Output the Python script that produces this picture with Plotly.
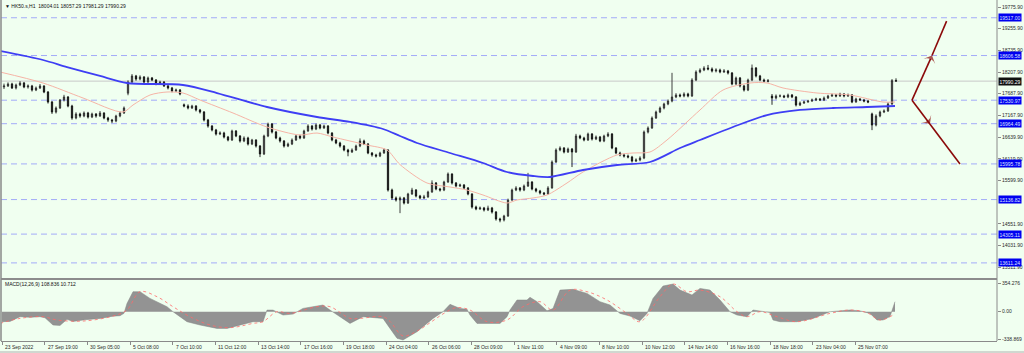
import plotly.graph_objects as go

# ---------------- data ----------------
header_text = "▼ HK50.s,H1  18004.01 18057.29 17981.29 17990.29"
macd_text = "MACD(12,26,9) 108.836 10.712"

opens = [17850, 17873, 17921, 17825, 17897, 17945, 17849, 17873, 17776, 17825,
         17873, 17728, 17487, 17246, 17343, 17535, 17608, 17391, 17102, 17198,
         17150, 17222, 17126, 17198, 17150, 17222, 17102, 17054, 17030, 17150,
         17222, 17700, 17969, 18114, 18041, 18090, 17969, 18066, 18017, 17921,
         17969, 17873, 17825, 17752, 17776, 17420, 17391, 17343, 17391, 17295,
         17246, 17054, 16909, 16813, 16716, 16740, 16644, 16572, 16789, 16668,
         16548, 16620, 16475, 16572, 16427, 16235, 16668, 16957, 16764, 16620,
         16548, 16427, 16475, 16572, 16668, 16620, 16789, 16909, 16837, 16933,
         16861, 16909, 16740, 16572, 16500, 16427, 16331, 16283, 16331, 16427,
         16548, 16475, 16259, 16211, 16186, 16259, 16331, 15367, 15175, 15127,
         15175, 15054, 15271, 15367, 15223, 15175, 15199, 15319, 15536, 15392,
         15367, 15560, 15753, 15536, 15464, 15488, 15416, 15271, 14958, 14910,
         14934, 14886, 14934, 14837, 14669, 14645, 14741, 15127, 15367, 15416,
         15367, 15464, 15560, 15392, 15343, 15295, 15271, 15416, 16042, 16331,
         16379, 16283, 16355, 16283, 16668, 16620, 16572, 16716, 16596, 16644,
         16548, 16668, 16716, 16379, 16259, 16211, 16186, 16162, 16066, 16090,
         16138, 16764, 16861, 17102, 17246, 17343, 17439, 17511, 17608, 17656,
         17632, 17680, 17632, 18017, 18210, 18258, 18306, 18282, 18234, 18258,
         18210, 18234, 18186, 17921, 18066, 17873, 17776, 18017, 18306, 18114,
         18017, 17993, 17630, 17584, 17632, 17632, 17608, 17656, 17608, 17415,
         17463, 17487, 17511, 17535, 17560, 17535, 17584, 17632, 17656, 17632,
         17680, 17632, 17656, 17487, 17560, 17535, 17511, 17200, 16933, 17150,
         17246, 17270, 17439, 18004.01]

highs = [17930, 17960, 17950, 17930, 17990, 17970, 17910, 17900, 17860, 17920,
         17890, 17750, 17510, 17380, 17560, 17660, 17630, 17420, 17240, 17230,
         17260, 17250, 17230, 17220, 17270, 17240, 17130, 17080, 17180, 17260,
         17380, 18010, 18160, 18140, 18130, 18110, 18100, 18090, 18040, 18000,
         17990, 17900, 17850, 17810, 17800, 17450, 17430, 17420, 17410, 17320,
         17270, 17080, 16930, 16840, 16780, 16770, 16670, 16820, 16810, 16690,
         16660, 16650, 16600, 16590, 16450, 16700, 16990, 16980, 16790, 16650,
         16570, 16510, 16610, 16700, 16700, 16820, 16950, 16930, 16970, 16960,
         16940, 16930, 16760, 16600, 16530, 16450, 16360, 16370, 16460, 16610,
         16580, 16500, 16280, 16240, 16290, 16370, 16350, 15400, 15210, 15210,
         15200, 15300, 15420, 15390, 15250, 15250, 15350, 15600, 15560, 15420,
         15590, 15790, 15770, 15560, 15520, 15510, 15440, 15290, 14990, 14970,
         14960, 14990, 14960, 14860, 14700, 14770, 15160, 15400, 15460, 15440,
         15500, 15780, 15580, 15420, 15370, 15320, 15460, 16080, 16370, 16420,
         16400, 16390, 16380, 16720, 16700, 16650, 16750, 16740, 16680, 16670,
         16700, 16760, 16740, 16400, 16290, 16240, 16220, 16190, 16130, 16180,
         16800, 16900, 17140, 17280, 17380, 17470, 17550, 18190, 17700, 17690,
         17720, 17710, 18060, 18250, 18300, 18350, 18380, 18320, 18300, 18290,
         18280, 18260, 18210, 18100, 18090, 17900, 18050, 18390, 18330, 18140,
         18050, 18040, 17680, 17670, 17670, 17660, 17690, 17680, 17630, 17500,
         17520, 17540, 17570, 17590, 17580, 17620, 17660, 17690, 17680, 17710,
         17700, 17690, 17680, 17590, 17580, 17560, 17540, 17230, 17190, 17280,
         17310, 17480, 18040, 18057.29]

lows = [17800, 17850, 17800, 17790, 17870, 17820, 17810, 17740, 17750, 17800,
        17700, 17450, 17200, 17210, 17320, 17500, 17360, 17060, 17070, 17110,
        17120, 17090, 17100, 17110, 17130, 17070, 17010, 16980, 17000, 17120,
        17200, 17650, 17940, 18000, 18010, 17940, 17950, 17990, 17890, 17900,
        17850, 17790, 17720, 17730, 17650, 17360, 17310, 17320, 17260, 17210,
        17020, 16870, 16780, 16680, 16690, 16610, 16540, 16550, 16640, 16510,
        16520, 16440, 16450, 16390, 16160, 16210, 16640, 16730, 16590, 16510,
        16390, 16400, 16450, 16550, 16590, 16600, 16770, 16800, 16810, 16830,
        16840, 16710, 16540, 16470, 16390, 16300, 16180, 16260, 16310, 16400,
        16450, 16230, 16170, 16150, 16160, 16240, 15330, 15130, 15090, 14810,
        15020, 15030, 15250, 15190, 15140, 15150, 15180, 15300, 15360, 15330,
        15340, 15540, 15500, 15430, 15440, 15390, 15240, 14920, 14880, 14890,
        14850, 14860, 14800, 14630, 14590, 14610, 14720, 15100, 15340, 15330,
        15340, 15440, 15360, 15310, 15260, 15240, 15250, 15400, 16020, 16300,
        16250, 16260, 15920, 16260, 16590, 16540, 16550, 16560, 16570, 16520,
        16520, 16640, 16350, 16230, 16180, 16150, 16130, 16030, 16040, 16060,
        16110, 16730, 16840, 17080, 17220, 17310, 17410, 17480, 17580, 17600,
        17600, 17600, 17610, 17990, 18180, 18230, 18250, 18200, 18200, 18180,
        18190, 18150, 17890, 17900, 17840, 17740, 17750, 17990, 18080, 17990,
        17960, 17960, 17420, 17550, 17600, 17580, 17580, 17580, 17380, 17390,
        17440, 17470, 17490, 17510, 17510, 17510, 17560, 17610, 17600, 17610,
        17600, 17610, 17460, 17470, 17510, 17480, 17460, 16810, 16900, 17120,
        17220, 17250, 17420, 17981.29]

closes = [17873, 17921, 17825, 17897, 17945, 17849, 17873, 17776, 17825, 17873,
          17728, 17487, 17246, 17343, 17535, 17608, 17391, 17102, 17198, 17150,
          17222, 17126, 17198, 17150, 17222, 17102, 17054, 17030, 17150, 17222,
          17343, 17969, 18114, 18041, 18090, 17969, 18066, 18017, 17921, 17969,
          17873, 17825, 17752, 17776, 17680, 17391, 17343, 17391, 17295, 17246,
          17054, 16909, 16813, 16716, 16740, 16644, 16572, 16789, 16668, 16548,
          16620, 16475, 16572, 16427, 16235, 16668, 16957, 16764, 16620, 16548,
          16427, 16475, 16572, 16668, 16620, 16789, 16909, 16837, 16933, 16861,
          16909, 16740, 16572, 16500, 16427, 16331, 16283, 16331, 16427, 16548,
          16475, 16259, 16211, 16186, 16259, 16331, 15367, 15175, 15127, 15175,
          15054, 15271, 15367, 15223, 15175, 15199, 15319, 15536, 15392, 15367,
          15560, 15753, 15536, 15464, 15488, 15416, 15271, 14958, 14910, 14934,
          14886, 14934, 14837, 14669, 14645, 14741, 15127, 15367, 15416, 15367,
          15464, 15560, 15392, 15343, 15295, 15271, 15416, 16042, 16331, 16379,
          16283, 16355, 16283, 16668, 16620, 16572, 16716, 16596, 16644, 16548,
          16668, 16716, 16379, 16259, 16211, 16186, 16162, 16066, 16090, 16138,
          16764, 16861, 17102, 17246, 17343, 17439, 17511, 17608, 17656, 17632,
          17680, 17632, 18017, 18210, 18258, 18306, 18282, 18234, 18258, 18210,
          18234, 18186, 17921, 18066, 17873, 17776, 18017, 18306, 18114, 18017,
          17993, 17993, 17584, 17632, 17632, 17608, 17656, 17608, 17415, 17463,
          17487, 17511, 17535, 17560, 17535, 17584, 17632, 17656, 17632, 17680,
          17632, 17656, 17487, 17560, 17535, 17511, 17487, 16933, 17150, 17246,
          17270, 17439, 18004.01, 17990.29]

# slow moving average (blue) sampled at bar positions
ma_slow_bars = [-1, 9.75, 15.75, 24, 30.75, 44.75, 53.25, 65.75, 78.25, 86.5,
                94.75, 99, 103.25, 111.5, 119.75, 125.75, 132.25, 136.5, 144.75, 153.25,
                161.5, 169, 174, 182.25, 190.75, 199, 207.25, 215.75, 222.75]
ma_slow_vals = [18716, 18499, 18330, 18114, 17945, 17897, 17704, 17367, 17126, 17006,
                16837, 16668, 16500, 16259, 16018, 15801, 15705, 15681, 15849, 15970,
                16042, 16379, 16572, 16885, 17174, 17295, 17343, 17367, 17391]

# fast moving average (salmon)
ma_fast_bars = [-1, 9.75, 19.75, 29.75, 32.25, 36.5, 40.75, 44.75, 49, 57.25,
                65.75, 74, 78.25, 82.25, 90.75, 95.75, 99, 105.75, 111.5, 115.75,
                119.75, 125.75, 128.25, 132.25, 135.75, 140.75, 144.75, 153.25, 157.25, 161.5,
                165.75, 174, 179.75, 186.5, 190.75, 194.75, 203.25, 211.5, 219.75, 222.75]
ma_fast_vals = [18210, 17945, 17584, 17246, 17415, 17656, 17728, 17704, 17535, 17222,
                16885, 16692, 16740, 16644, 16451, 16331, 15980, 15536, 15440, 15367,
                15247, 15054, 15127, 15175, 15247, 15536, 15801, 16211, 16259, 16283,
                16572, 17295, 17776, 17945, 17945, 17825, 17704, 17656, 17487, 17487]

# MACD histogram
macd_bars = [-0.5, 1.5, 4, 6.5, 9, 10.25, 12.25, 14, 15.75, 17.25,
             20.25, 24, 27.25, 29, 30, 30.75, 32.25, 34, 36.5, 40.75,
             42.25, 45.75, 49, 53.25, 55.75, 57.25, 62.25, 64.75, 65.75, 67.25,
             69.75, 72.25, 74.75, 78.25, 79.75, 81.5, 84, 86.5, 89.75, 92.25,
             94.75, 96.5, 98.25, 99.75, 103.25, 107.25, 109.75, 111.5, 114, 115.75,
             116.5, 118.25, 121.5, 124, 125.75, 126.5, 128.25, 130.75, 131.5, 133.25,
             135.75, 137.25, 139, 142.25, 145.75, 149, 151.5, 154, 156.5, 159,
             160.75, 162.25, 164.75, 167.25, 169, 172, 174, 176.5, 179, 181.5,
             183.25, 185.75, 187.25, 189, 191.5, 192.25, 194, 198.25, 202.25, 206.5,
             211.5, 214, 216.5, 218.25, 219.75, 221.5, 222.75]
macd_vals = [-124, -120, -62, -70, -62, -75, -165, -170, -95, -120,
             -100, -83, -55, -50, -20, 103, 248, 248, 165, 62,
             0, -124, -165, -207, -207, -190, -124, -124, 20, 20,
             -41, -30, 41, 70, 83, 20, -62, -145, -62, -70,
             -83, -207, -330, -351, -248, -83, 0, 91, 41, 30,
             -41, -145, -140, -145, -62, 21, 145, 145, 178, 124,
             12, 40, 268, 277, 227, 124, 83, -21, -54, -112,
             -21, 165, 318, 343, 268, 207, 289, 268, 145, 0,
             -41, -62, 21, 10, -10, -103, -124, -124, -83, 0,
             21, 10, -21, -103, -103, -60, 124]

# MACD signal line
sig_bars = [-1, 4, 9.75, 13.25, 19.75, 27.25, 30.75, 34, 38.25, 42.25,
            46.5, 51.5, 56.5, 62.25, 64.75, 68.25, 71.5, 78.25, 81.5, 86.5,
            89, 94.75, 96.5, 99.75, 103.25, 107, 110, 113, 116.5, 120.75,
            125.75, 129.75, 134, 137.25, 141.5, 145.75, 150.75, 155.75, 159, 164,
            167.25, 170.75, 174, 179, 183.25, 185.75, 189, 193.25, 198.25, 206.5,
            211.5, 215.75, 219, 222.25]
sig_vals = [-145, -83, -62, -103, -116, -54, 21, 248, 186, 62,
            -62, -165, -198, -145, -124, 0, -21, 62, 62, -83,
            -83, -62, -120, -300, -240, -120, -20, 50, 21, -124,
            -103, 62, 124, 21, 268, 248, 145, -21, -124, 186,
            343, 248, 268, 186, 0, -62, 0, -62, -124, -21,
            21, -12, -103, -41]

# horizontal levels and current price
level_vals = [19517.00, 18606.58, 17530.97, 16964.49, 15995.78, 15136.82, 14305.11, 13611.24]
current_price = 17990.29

# projection arrows
proj_up_bars = [227, 232, 236]
proj_up_prices = [17530.97, 18606.58, 19517.00]
proj_dn_bars = [227, 231.5, 239]
proj_dn_prices = [17530.97, 16964.49, 15995.78]

# axis ticks
price_ticks = [19775.90, 19255.90, 18735.90, 18207.90, 17687.90, 17167.90,
               16639.90, 16119.90, 15599.90, 14551.90, 14031.90, 13511.90]
macd_ticks = [354.276, 0.0, -338.869]
macd_tick_text = ["354.276", "0.00", "-338.869"]
date_labels = ["23 Sep 2022", "27 Sep 19:00", "30 Sep 05:00", "5 Oct 08:00", "7 Oct 10:00",
               "11 Oct 12:00", "13 Oct 14:00", "17 Oct 16:00", "19 Oct 18:00", "24 Oct 04:00",
               "26 Oct 06:00", "28 Oct 09:00", "1 Nov 11:00", "4 Nov 09:00", "8 Nov 10:00",
               "10 Nov 12:00", "14 Nov 14:00", "16 Nov 16:00", "18 Nov 18:00", "23 Nov 04:00",
               "25 Nov 07:00"]

# ---------------- layout constants ----------------
W, H = 1024, 353
ML, MR, MT, MB = 1, 27, 0, 12
PH = H - MT - MB  # plot height in px


def py(px):
    return 1 - px / PH


BG = "#F0FFF0"
FONT = "Liberation Sans, Arial, sans-serif"
TXT = "#2a2a2a"
AXC = "#8a8a8a"

n = len(closes)
bar_idx = list(range(n))
highs_c = [max(h, o, c) for h, o, c in zip(highs, opens, closes)]
lows_c = [min(l, o, c) for l, o, c in zip(lows, opens, closes)]
tick_bars = [-0.5 + k * 32 / 3 for k in range(len(date_labels))]

fig = go.Figure()

# MACD histogram (filled)
fig.add_trace(go.Scatter(x=macd_bars, y=macd_vals, mode="lines", fill="tozeroy",
                         fillcolor="#939393", line=dict(color="#858585", width=0.5),
                         xaxis="x", yaxis="y2", hoverinfo="skip", showlegend=False))
fig.add_trace(go.Scatter(x=sig_bars, y=sig_vals, mode="lines",
                         line=dict(color="#FF6A6A", width=0.8, dash="dot", shape="spline"),
                         xaxis="x", yaxis="y2", hoverinfo="skip", showlegend=False))

# moving averages
fig.add_trace(go.Scatter(x=ma_fast_bars, y=ma_fast_vals, mode="lines",
                         line=dict(color="#F6B4A6", width=1, shape="spline", smoothing=0.8),
                         xaxis="x", yaxis="y", hoverinfo="skip", showlegend=False))

# candles
fig.add_trace(go.Candlestick(x=bar_idx, open=opens, high=highs_c, low=lows_c, close=closes,
                             increasing=dict(line=dict(color="#2a2a2a", width=0.9), fillcolor="#6a6a6a"),
                             decreasing=dict(line=dict(color="#111111", width=0.9), fillcolor="#111111"),
                             whiskerwidth=0, xaxis="x", yaxis="y", hoverinfo="skip", showlegend=False))

fig.add_trace(go.Scatter(x=ma_slow_bars, y=ma_slow_vals, mode="lines",
                         line=dict(color="#3E3EF4", width=1.8, shape="spline", smoothing=0.8),
                         xaxis="x", yaxis="y", hoverinfo="skip", showlegend=False))

# projection arrows
for bx, pv in ((proj_up_bars, proj_up_prices), (proj_dn_bars, proj_dn_prices)):
    fig.add_trace(go.Scatter(x=bx, y=pv, mode="lines+markers",
                             line=dict(color="#8B0A0A", width=1.6),
                             marker=dict(symbol="arrow-wide", angleref="previous",
                                         size=[0, 9, 0], color="#8B0A0A",
                                         line=dict(width=0)),
                             xaxis="x", yaxis="y", hoverinfo="skip", showlegend=False))

shapes = []
# dashed levels
for v in level_vals:
    shapes.append(dict(type="line", xref="paper", x0=0, x1=1, yref="y", y0=v, y1=v,
                       line=dict(color="#A3ABF8", width=1, dash="6px,4px"), layer="below"))
# current price line
shapes.append(dict(type="line", xref="paper", x0=0, x1=1, yref="y", y0=current_price, y1=current_price,
                   line=dict(color="#C8C8C8", width=1), layer="below"))
# panel separator
shapes.append(dict(type="line", xref="paper", x0=0, x1=1, yref="paper", y0=py(279), y1=py(279),
                   line=dict(color="#8C8C8C", width=2)))
# right axis line and left border
shapes.append(dict(type="line", xref="paper", x0=1, x1=1, yref="paper", y0=0, y1=1,
                   line=dict(color=AXC, width=1)))
shapes.append(dict(type="line", xref="paper", x0=0, x1=0, yref="paper", y0=0, y1=1,
                   line=dict(color=AXC, width=1.5)))
# bottom border
shapes.append(dict(type="line", xref="paper", x0=-0.01, x1=1.03, yref="paper", y0=py(352), y1=py(352),
                   line=dict(color="#B0B0B0", width=1)))

annotations = []
annotations.append(dict(xref="paper", x=0, xanchor="left", xshift=2, yref="paper", y=py(6),
                        yanchor="middle", text=header_text, showarrow=False,
                        font=dict(size=5, color="#111111", family=FONT)))
annotations.append(dict(xref="paper", x=0, xanchor="left", xshift=2, yref="paper", y=py(284),
                        yanchor="middle", text=macd_text, showarrow=False,
                        font=dict(size=5, color="#111111", family=FONT)))
for v in level_vals:
    annotations.append(dict(xref="paper", x=1, xanchor="left", xshift=1, yref="y", y=v,
                            yanchor="middle", text=f"{v:.2f}", showarrow=False,
                            bgcolor="#0000F0", borderpad=0.5,
                            font=dict(size=5, color="#DDE4FF", family=FONT)))
annotations.append(dict(xref="paper", x=1, xanchor="left", xshift=1, yref="y", y=current_price,
                        yanchor="middle", text=f"{current_price:.2f}", showarrow=False,
                        bgcolor="#101010", borderpad=0.5,
                        font=dict(size=5, color="#FFFFFF", family=FONT)))
for tb, lab in zip(tick_bars, date_labels):
    annotations.append(dict(xref="x", x=tb, xanchor="left", xshift=1, yref="paper", y=py(346.5),
                            yanchor="middle", text=lab, showarrow=False,
                            font=dict(size=5, color=TXT, family=FONT)))

fig.update_layout(
    width=W, height=H, autosize=False,
    margin=dict(l=ML, r=MR, t=MT, b=MB, pad=0),
    paper_bgcolor=BG, plot_bgcolor=BG,
    font=dict(family=FONT, size=5, color=TXT),
    showlegend=False,
    boxgap=0.55,
    xaxis=dict(domain=[0, 1], range=[-0.75, 248.25], anchor="y2",
               showline=True, linecolor=AXC, linewidth=1, mirror=False,
               ticks="outside", ticklen=3, tickcolor=AXC, tickvals=tick_bars,
               showticklabels=False, showgrid=False, zeroline=False,
               rangeslider=dict(visible=False), fixedrange=True),
    yaxis=dict(domain=[py(277), 1], range=[13271.6, 19944.5], side="right", anchor="x",
               showline=False, ticks="outside", ticklen=3, tickcolor=AXC,
               tickvals=price_ticks, ticktext=[f"{t:.2f}" for t in price_ticks],
               tickfont=dict(size=5, color=TXT, family=FONT),
               showgrid=False, zeroline=False, fixedrange=True),
    yaxis2=dict(domain=[0, py(281)], range=[-363.3, 380.7], side="right", anchor="x",
                showline=False, ticks="outside", ticklen=3, tickcolor=AXC,
                tickvals=macd_ticks, ticktext=macd_tick_text,
                tickfont=dict(size=5, color=TXT, family=FONT),
                showgrid=False, zeroline=False, fixedrange=True),
    shapes=shapes,
    annotations=annotations,
)

fig.write_html("out.html", config={"displayModeBar": False})
